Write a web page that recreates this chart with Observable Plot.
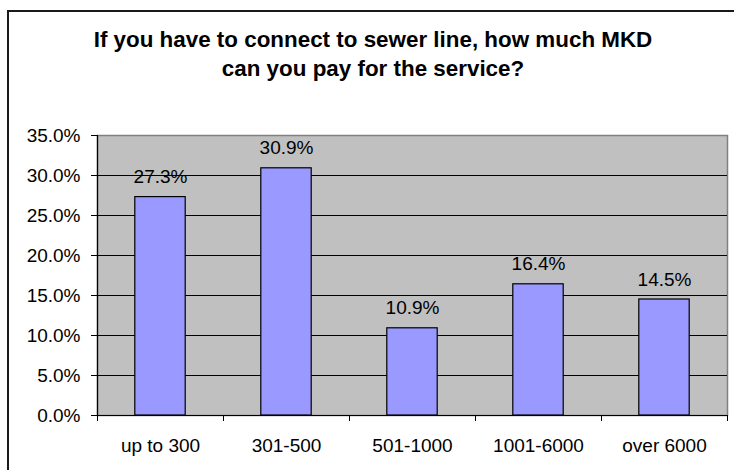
<!DOCTYPE html>
<html>
<head>
<meta charset="utf-8">
<script src="https://cdn.jsdelivr.net/npm/d3@7"></script>
<script src="https://cdn.jsdelivr.net/npm/@observablehq/plot@0.6"></script>
<style>
  html, body { margin: 0; padding: 0; background: #fff; overflow: hidden; }
  #wrap { position: relative; width: 734px; height: 470px; overflow: hidden; font-family: "Liberation Sans", Arial, sans-serif; }
  #frame { position: absolute; left: 7px; top: 10px; width: 727px; height: 460px; border-left: 2px solid #1a1a1a; border-top: 2px solid #1a1a1a; box-sizing: border-box; }
  #title { position: absolute; left: 73px; width: 600px; top: 25px; text-align: center; font-weight: bold; font-size: 22.4px; line-height: 29px; color: #000; }
  #chart { position: absolute; left: 0; top: 0; }
</style>
</head>
<body>
<div id="wrap">
  <div id="frame"></div>
  <div id="chart"></div>
  <div id="title">If you have to connect to sewer line, how much MKD<br>can you pay for the service?</div>
</div>
<script>
const categories = ["up to 300", "301-500", "501-1000", "1001-6000", "over 6000"];
const shares = [0.273, 0.309, 0.109, 0.164, 0.145];
const yTicks = [0, 0.05, 0.10, 0.15, 0.20, 0.25, 0.30, 0.35];

const data = categories.map((c, i) => ({i, category: c, value: shares[i]}));
const pct = d3.format(".1%");
const centers = categories.map((c, i) => i + 0.5);
const bounds = d3.range(categories.length + 1);

const plot = Plot.plot({
  width: 734,
  height: 470,
  marginLeft: 97,
  marginRight: 7,
  marginTop: 135,
  marginBottom: 55,
  style: {fontFamily: "'Liberation Sans', Arial, sans-serif", fontSize: "19px", color: "#000", background: "transparent", overflow: "visible"},
  x: {domain: [0, categories.length]},
  y: {domain: [0, 0.35]},
  marks: [
    Plot.frame({fill: "#C0C0C0", stroke: "#808080", strokeWidth: 1.5}),
    Plot.ruleY(yTicks.filter(t => t > 0 && t < 0.35), {stroke: "#000", strokeWidth: 1}),
    Plot.rectY(data, {x1: d => d.i + 0.3, x2: d => d.i + 0.7, y1: 0, y2: "value", fill: "#9999FF", stroke: "#000", strokeWidth: 1.2}),
    Plot.text(data, {x: d => d.i + 0.5, y: "value", text: d => pct(d.value), lineAnchor: "bottom", dy: -14, fontSize: 19, fill: "#000"}),
    Plot.ruleX([0], {stroke: "#000", strokeWidth: 1.2}),
    Plot.ruleY([0], {stroke: "#000", strokeWidth: 1.2}),
    Plot.axisY({ticks: yTicks, tickFormat: pct, tickSize: 6, tickPadding: 11, fontSize: 19, label: null}),
    Plot.axisX({ticks: bounds, tickFormat: () => "", tickSize: 6, label: null}),
    Plot.axisX({ticks: centers, tickFormat: d => categories[Math.floor(d)], tickSize: 0, tickPadding: 23, fontSize: 19, label: null})
  ]
});
document.getElementById("chart").appendChild(plot);
</script>
</body>
</html>
